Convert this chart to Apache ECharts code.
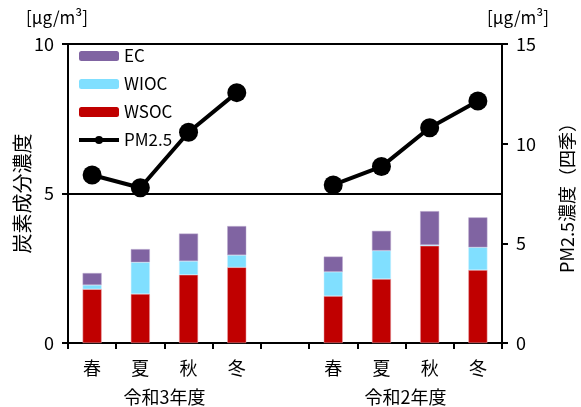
<!DOCTYPE html>
<html>
<head>
<meta charset="utf-8">
<script src="https://cdn.jsdelivr.net/npm/echarts@6/dist/echarts.min.js"></script>
<style>
  html, body { margin: 0; padding: 0; background: #fff; }
  #chart { width: 581px; height: 407px; }
</style>
</head>
<body>
<div id="chart"></div>
<script>
  // 季節と年度
  const seasons = ['春', '夏', '秋', '冬'];
  const groupNames = ['令和3年度', '令和2年度'];

  // 炭素成分 [μg/m3]（令和3年度 → 空き → 令和2年度）
  const wsocR3 = [1.80, 1.64, 2.28, 2.53];
  const wiocR3 = [0.14, 1.06, 0.46, 0.41];
  const ecR3 = [0.40, 0.44, 0.92, 0.97];
  const wsocR2 = [1.57, 2.14, 3.25, 2.44];
  const wiocR2 = [0.81, 0.95, 0.03, 0.76];
  const ecR2 = [0.51, 0.66, 1.13, 1.00];

  // PM2.5濃度（四季）
  const pmR3 = [8.43, 7.79, 10.57, 12.56];
  const pmR2 = [7.93, 8.85, 10.80, 12.14];

  const categories = seasons.concat([''], seasons);
  const join = (a, b) => a.concat([null], b);

  const font = '"Noto Sans CJK JP", "Noto Sans", sans-serif';
  const black = '#000';

  // 年度ラベルの位置（各年度4カテゴリの中央）
  const groupCenters = groupNames.map((n, g) => g * (seasons.length + 1) + seasons.length / 2);

  const myChart = echarts.init(document.getElementById('chart'));
  const option = {
    animation: false,
    textStyle: { fontFamily: font },
    grid: { left: 68, right: 79, top: 44, bottom: 64, outerBoundsMode: 'none', containLabel: false },
    legend: {
      left: 77,
      top: 47,
      padding: 0,
      orient: 'vertical',
      itemWidth: 40,
      itemHeight: 10,
      itemGap: 10,
      itemStyle: { borderWidth: 0 },
      textStyle: { fontSize: 17, lineHeight: 18, color: black, fontFamily: font },
      data: ['EC', 'WIOC', 'WSOC', { name: 'PM2.5', lineStyle: { width: 4 } }]
    },
    xAxis: [
      {
        type: 'category',
        data: categories,
        axisLine: { lineStyle: { color: black, width: 2 } },
        axisTick: { show: true, length: 6, lineStyle: { color: black, width: 2 } },
        axisLabel: { color: black, fontSize: 18, margin: 16, interval: 0 }
      },
      {
        type: 'value',
        position: 'bottom',
        min: 0,
        max: categories.length,
        axisLine: { show: false },
        axisTick: { show: false },
        splitLine: { show: false },
        axisLabel: {
          customValues: groupCenters,
          color: black,
          fontSize: 18,
          margin: 45,
          formatter: (v) => groupNames[groupCenters.indexOf(v)] || ''
        }
      }
    ],
    yAxis: [
      {
        type: 'value',
        min: 0,
        max: 10,
        interval: 5,
        name: '炭素成分濃度',
        nameLocation: 'middle',
        nameRotate: 90,
        nameGap: 36,
        nameMoveOverlap: false,
        nameTextStyle: { color: black, fontSize: 20 },
        axisLine: { show: true, lineStyle: { color: black, width: 2 } },
        axisTick: { show: true, length: 6, lineStyle: { color: black, width: 2 } },
        axisLabel: { color: black, fontSize: 18, margin: 14 },
        splitLine: { show: true, lineStyle: { color: black, width: 2 } }
      },
      {
        type: 'value',
        min: 0,
        max: 15,
        interval: 5,
        name: 'PM2.5濃度（四季）',
        nameLocation: 'middle',
        nameRotate: 90,
        nameGap: 56,
        nameMoveOverlap: false,
        nameTextStyle: { color: black, fontSize: 18 },
        axisLine: { show: true, lineStyle: { color: black, width: 2 } },
        axisTick: { show: true, length: 6, lineStyle: { color: black, width: 2 } },
        axisLabel: { color: black, fontSize: 18, margin: 14 },
        splitLine: { show: false }
      }
    ],
    graphic: [
      { type: 'text', left: 26, top: 9, style: { text: '[μg/m³]', fontSize: 17, fill: black, fontFamily: font } },
      { type: 'text', left: 487, top: 9, style: { text: '[μg/m³]', fontSize: 17, fill: black, fontFamily: font } }
    ],
    series: [
      {
        name: 'WSOC',
        type: 'bar',
        stack: 'c',
        barWidth: 19,
        data: join(wsocR3, wsocR2),
        itemStyle: { color: '#C00000', borderColor: '#E8A0A8', borderWidth: 0.5 }
      },
      {
        name: 'WIOC',
        type: 'bar',
        stack: 'c',
        data: join(wiocR3, wiocR2),
        itemStyle: { color: '#80DFFF', borderColor: '#C8F0FF', borderWidth: 0.5 }
      },
      {
        name: 'EC',
        type: 'bar',
        stack: 'c',
        data: join(ecR3, ecR2),
        itemStyle: { color: '#8064A2', borderColor: '#B8A6CC', borderWidth: 0.5 }
      },
      {
        name: 'PM2.5',
        type: 'line',
        yAxisIndex: 1,
        data: join(pmR3, pmR2),
        connectNulls: false,
        symbol: 'circle',
        symbolSize: 19,
        lineStyle: { color: black, width: 4 },
        itemStyle: { color: black }
      }
    ]
  };
  myChart.setOption(option);
</script>
</body>
</html>
